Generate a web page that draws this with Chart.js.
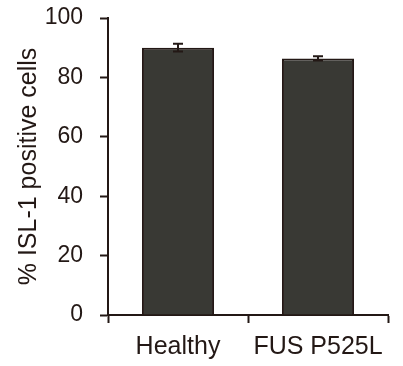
<!DOCTYPE html>
<html>
<head>
<meta charset="utf-8">
<script src="https://cdn.jsdelivr.net/npm/chart.js@4/dist/chart.umd.min.js"></script>
<style>
  html, body { margin: 0; padding: 0; background: #fff; }
  #wrap { width: 403px; height: 366px; }
</style>
</head>
<body>
<div id="wrap"><canvas id="chart" width="403" height="366"></canvas></div>
<script>
var categories = ["Healthy", "FUS P525L"];
var values = [90.0, 86.4];
var errors = [1.3, 0.7];
var yTicks = [0, 20, 40, 60, 80, 100];

var ink = "#231815";

// simple error bar plugin, drawn through the y scale
var errorBars = {
    id: "errorBars",
    afterDatasetsDraw: function (chart) {
        var ctx = chart.ctx;
        var y = chart.scales.y;
        var meta = chart.getDatasetMeta(0);
        ctx.save();
        ctx.strokeStyle = ink;
        ctx.lineWidth = 2;
        for (var i = 0; i < meta.data.length; i++) {
            var bar = meta.data[i];
            var top = y.getPixelForValue(values[i] + errors[i]);
            var bot = y.getPixelForValue(values[i] - errors[i]);
            ctx.beginPath();
            ctx.moveTo(bar.x, top);
            ctx.lineTo(bar.x, bot);
            ctx.moveTo(bar.x - 5, top);
            ctx.lineTo(bar.x + 5, top);
            ctx.moveTo(bar.x - 5, bot);
            ctx.lineTo(bar.x + 5, bot);
            ctx.stroke();
        }
        ctx.restore();
    }
};

var chart = new Chart(document.getElementById("chart"), {
    type: "bar",
    data: {
        labels: categories,
        datasets: [{
            data: values,
            backgroundColor: "#393934",
            borderColor: ink,
            borderWidth: 2,
            categoryPercentage: 1,
            barPercentage: 0.515
        }]
    },
    options: {
        responsive: false,
        animation: false,
        layout: { padding: { top: 18, right: 15, left: 0, bottom: 0 } },
        plugins: { legend: { display: false }, tooltip: { enabled: false } },
        scales: {
            x: {
                offset: true,
                grid: { offset: true, drawOnChartArea: false, drawTicks: true, tickLength: 8, tickWidth: 2, color: ink },
                border: { display: true, color: ink, width: 2 },
                ticks: { color: ink, padding: 9, maxRotation: 0, font: { family: "Liberation Sans", size: 25 } },
                afterFit: function (s) { s.height = 51; }
            },
            y: {
                min: 0,
                max: 100,
                afterBuildTicks: function (s) { s.ticks = yTicks.map(function (v) { return { value: v }; }); },
                grid: { drawOnChartArea: false, drawTicks: true, tickLength: 8, tickWidth: 2, color: ink },
                border: { display: true, color: ink, width: 2 },
                ticks: { color: ink, padding: 17, font: { family: "Liberation Sans", size: 23 } },
                title: {
                    display: true,
                    text: "% ISL-1 positive cells",
                    color: ink,
                    padding: { top: 14, bottom: 0 },
                    font: { family: "Liberation Sans", size: 25, weight: "normal" }
                },
                afterFit: function (s) {
                    s.width = 108;
                    s.paddingTop = 0;
                    s.paddingBottom = 0;
                }
            }
        }
    },
    plugins: [errorBars]
});
</script>
</body>
</html>
